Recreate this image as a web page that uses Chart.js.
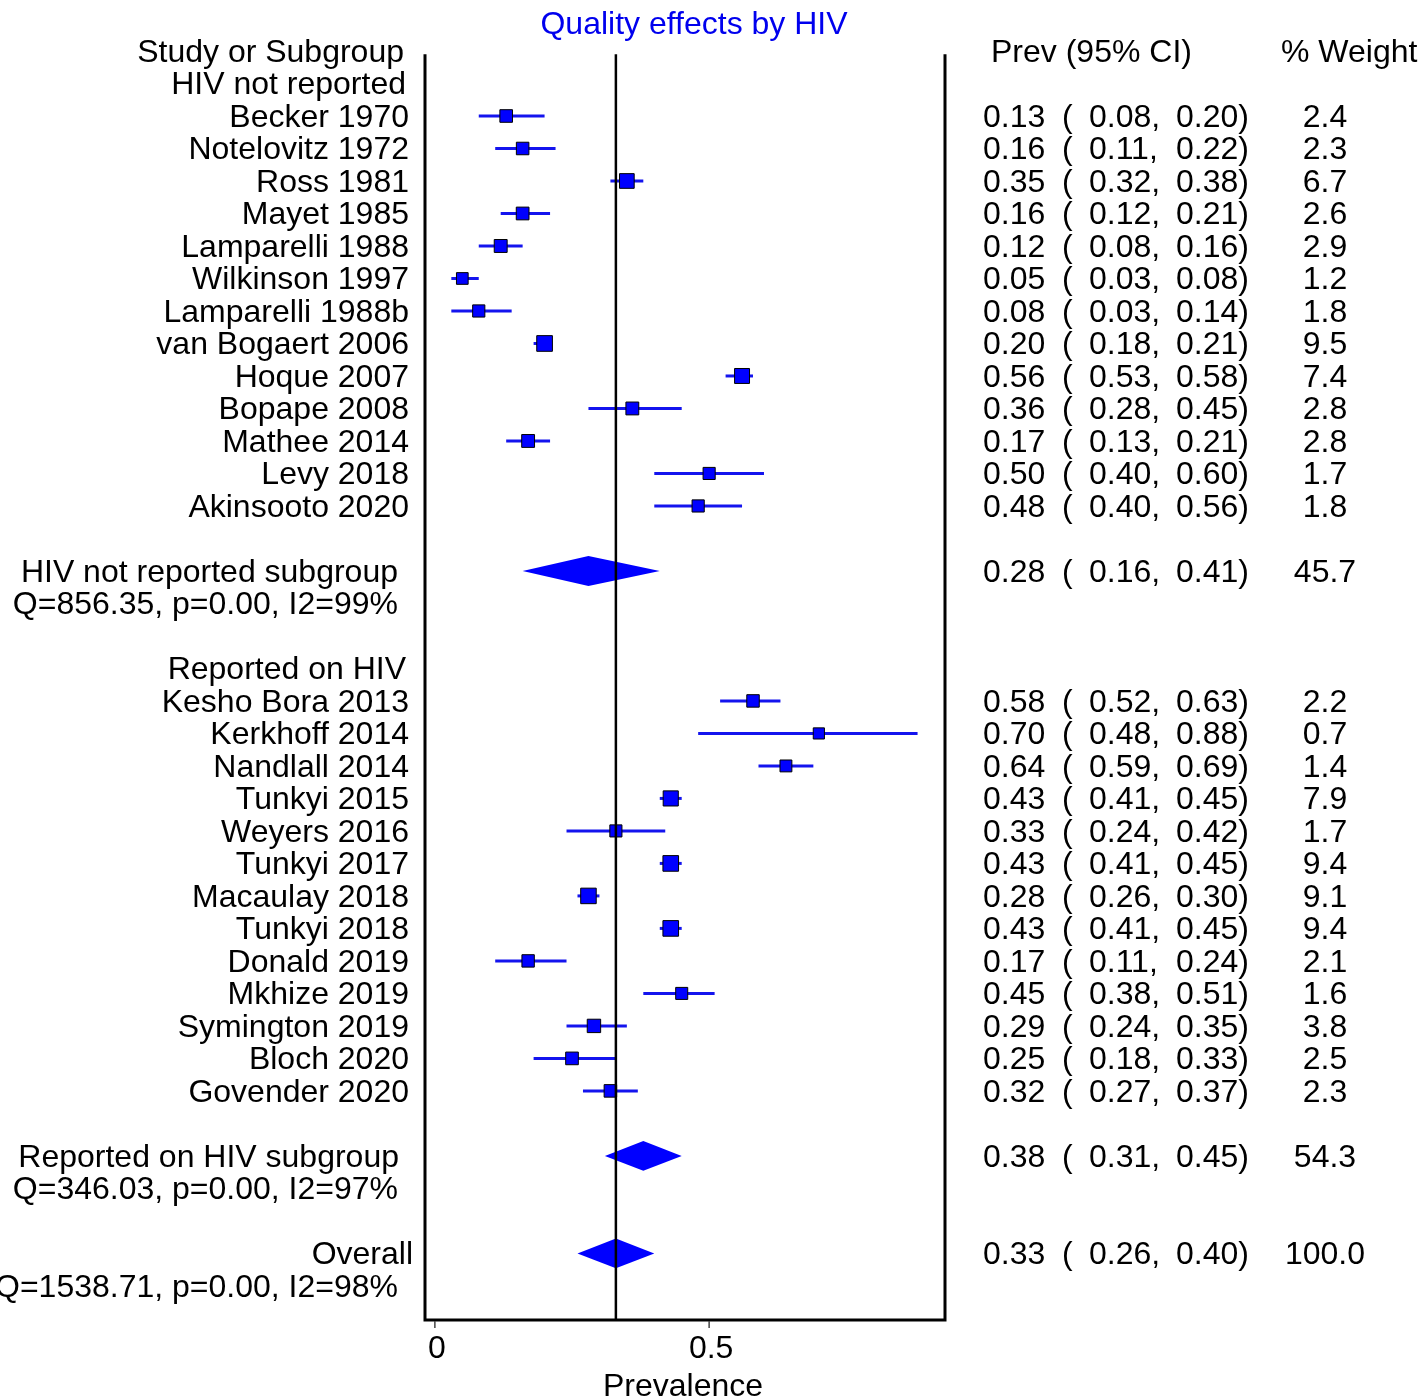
<!DOCTYPE html>
<html>
<head>
<meta charset="utf-8">
<title>Quality effects by HIV</title>
<script src="https://cdn.jsdelivr.net/npm/chart.js@4/dist/chart.umd.min.js"></script>
<style>
  body { margin: 0; background: #fff; }
  canvas { display: block; }
</style>
</head>
<body>
<canvas id="forest" width="1423" height="1396"></canvas>
<script>
// HIV not reported
const studiesA = ['Becker 1970', 'Notelovitz 1972', 'Ross 1981', 'Mayet 1985', 'Lamparelli 1988', 'Wilkinson 1997',
  'Lamparelli 1988b', 'van Bogaert 2006', 'Hoque 2007', 'Bopape 2008', 'Mathee 2014', 'Levy 2018', 'Akinsooto 2020'];
const estA = [0.13, 0.16, 0.35, 0.16, 0.12, 0.05, 0.08, 0.20, 0.56, 0.36, 0.17, 0.50, 0.48];
const loA = [0.08, 0.11, 0.32, 0.12, 0.08, 0.03, 0.03, 0.18, 0.53, 0.28, 0.13, 0.40, 0.40];
const hiA = [0.20, 0.22, 0.38, 0.21, 0.16, 0.08, 0.14, 0.21, 0.58, 0.45, 0.21, 0.60, 0.56];
const weightA = [2.4, 2.3, 6.7, 2.6, 2.9, 1.2, 1.8, 9.5, 7.4, 2.8, 2.8, 1.7, 1.8];

// Reported on HIV
const studiesB = ['Kesho Bora 2013', 'Kerkhoff 2014', 'Nandlall 2014', 'Tunkyi 2015', 'Weyers 2016', 'Tunkyi 2017',
  'Macaulay 2018', 'Tunkyi 2018', 'Donald 2019', 'Mkhize 2019', 'Symington 2019', 'Bloch 2020', 'Govender 2020'];
const estB = [0.58, 0.70, 0.64, 0.43, 0.33, 0.43, 0.28, 0.43, 0.17, 0.45, 0.29, 0.25, 0.32];
const loB = [0.52, 0.48, 0.59, 0.41, 0.24, 0.41, 0.26, 0.41, 0.11, 0.38, 0.24, 0.18, 0.27];
const hiB = [0.63, 0.88, 0.69, 0.45, 0.42, 0.45, 0.30, 0.45, 0.24, 0.51, 0.35, 0.33, 0.37];
const weightB = [2.2, 0.7, 1.4, 7.9, 1.7, 9.4, 9.1, 9.4, 2.1, 1.6, 3.8, 2.5, 2.3];

// pooled: [estimate, lower, upper, weight]
const pooledA = [0.28, 0.16, 0.41, 45.7];
const pooledB = [0.38, 0.31, 0.45, 54.3];
const overall = [0.33, 0.26, 0.40, 100.0];
const hetA = 'Q=856.35, p=0.00, I2=99%';
const hetB = 'Q=346.03, p=0.00, I2=97%';
const hetAll = 'Q=1538.71, p=0.00, I2=98%';

const xTicks = [0, 0.5];
const xTickLabels = ['0', '0.5'];

const FONT = '32px "Liberation Sans", Arial, Helvetica, sans-serif';
const BLUE = '#0000ff';
const LINE_BLUE = '#1414ee';
const TY = 2; // text sits a touch below the row centre

// row positions (0 = header line)
const rowsA = studiesA.map((s, i) => 2 + i);
const rowPooledA = 16;
const rowTitleB = 19;
const rowsB = studiesB.map((s, i) => 20 + i);
const rowPooledB = 34;
const rowOverall = 37;

const side = w => 9.5 + 2 * Math.sqrt(w);
const fmt = v => v.toFixed(2);

const ciLine = (lo, hi, row) => ({
  type: 'line',
  data: [{ x: lo, y: row }, { x: hi, y: row }],
  borderColor: LINE_BLUE,
  borderWidth: 3,
  pointRadius: 0
});

const allEst = estA.concat(estB);
const allRows = rowsA.concat(rowsB);
const allW = weightA.concat(weightB);

const datasets = [
  // line at overall estimate
  {
    type: 'line',
    data: [{ x: overall[0], y: 0.1 }, { x: overall[0], y: 39.05 }],
    borderColor: '#000',
    borderWidth: 2.5,
    pointRadius: 0
  },
  {
    type: 'scatter',
    data: allEst.map((v, i) => ({ x: v, y: allRows[i] })),
    pointStyle: 'rect',
    pointRadius: allW.map(w => side(w) / Math.SQRT2),
    backgroundColor: BLUE,
    borderColor: '#000',
    borderWidth: 1
  },
  ...studiesA.map((s, i) => ciLine(loA[i], hiA[i], rowsA[i])),
  ...studiesB.map((s, i) => ciLine(loB[i], hiB[i], rowsB[i]))
];

// pooled diamonds, under the reference line
const diamonds = {
  id: 'diamonds',
  beforeDatasetsDraw(chart) {
    const x = chart.scales.x, y = chart.scales.y;
    const ctx = chart.ctx;
    [[pooledA, rowPooledA], [pooledB, rowPooledB], [overall, rowOverall]].forEach(([p, row]) => {
      ctx.save();
      ctx.fillStyle = BLUE;
      ctx.beginPath();
      ctx.moveTo(x.getPixelForValue(p[1]), y.getPixelForValue(row));
      ctx.lineTo(x.getPixelForValue(p[0]), y.getPixelForValue(row - 0.46));
      ctx.lineTo(x.getPixelForValue(p[2]), y.getPixelForValue(row));
      ctx.lineTo(x.getPixelForValue(p[0]), y.getPixelForValue(row + 0.46));
      ctx.closePath();
      ctx.fill();
      ctx.restore();
    });
  }
};

// frame, axis, and the text columns
const textColumns = {
  id: 'textColumns',
  afterDraw(chart) {
    const ctx = chart.ctx;
    const x = chart.scales.x, y = chart.scales.y;
    const area = chart.chartArea;
    const ry = r => y.getPixelForValue(r) + TY;

    ctx.save();
    // frame
    ctx.strokeStyle = '#000';
    ctx.lineWidth = 3;
    ctx.beginPath();
    ctx.moveTo(area.left, y.getPixelForValue(0.1));
    ctx.lineTo(area.left, area.bottom);
    ctx.lineTo(area.right, area.bottom);
    ctx.lineTo(area.right, y.getPixelForValue(0.1));
    ctx.stroke();

    // ticks
    ctx.lineWidth = 1.5;
    ctx.strokeStyle = '#444';
    xTicks.forEach(t => {
      const px = x.getPixelForValue(t);
      ctx.beginPath();
      ctx.moveTo(px, area.bottom + 1);
      ctx.lineTo(px, area.bottom + 8);
      ctx.stroke();
    });

    ctx.font = FONT;
    ctx.fillStyle = '#000';
    ctx.textBaseline = 'middle';
    ctx.textAlign = 'center';
    xTicks.forEach((t, i) => ctx.fillText(xTickLabels[i], x.getPixelForValue(t) + 2, area.bottom + 29));
    ctx.fillText('Prevalence', (area.left + area.right) / 2 - 2, area.bottom + 67);

    // title
    ctx.fillStyle = '#0000ee';
    ctx.fillText('Quality effects by HIV', 694, 25);

    // left column
    ctx.fillStyle = '#000';
    ctx.textAlign = 'right';
    const L = 409;
    ctx.fillText('Study or Subgroup', 404, ry(0));
    ctx.fillText('HIV not reported', 406, ry(1));
    studiesA.forEach((s, i) => ctx.fillText(s, L, ry(rowsA[i])));
    ctx.fillText('HIV not reported subgroup', 398, ry(rowPooledA));
    ctx.fillText(hetA, 398, ry(rowPooledA + 1));
    ctx.fillText('Reported on HIV', 406, ry(rowTitleB));
    studiesB.forEach((s, i) => ctx.fillText(s, L, ry(rowsB[i])));
    ctx.fillText('Reported on HIV subgroup', 399, ry(rowPooledB));
    ctx.fillText(hetB, 398, ry(rowPooledB + 1));
    ctx.fillText('Overall', 413, ry(rowOverall));
    ctx.fillText(hetAll, 398, ry(rowOverall + 1));

    // right columns
    ctx.textAlign = 'left';
    ctx.fillText('Prev (95% CI)', 991, ry(0));
    ctx.fillText('% Weight', 1281, ry(0));
    const rowText = (e, lo, hi, w, row) => {
      const py = ry(row);
      ctx.textAlign = 'left';
      ctx.fillText(fmt(e), 983, py);
      ctx.fillText('(', 1062, py);
      ctx.fillText(fmt(lo) + ',', 1089, py);
      ctx.fillText(fmt(hi) + ')', 1176, py);
      ctx.textAlign = 'center';
      ctx.fillText(w.toFixed(1), 1325, py);
    };
    studiesA.forEach((s, i) => rowText(estA[i], loA[i], hiA[i], weightA[i], rowsA[i]));
    studiesB.forEach((s, i) => rowText(estB[i], loB[i], hiB[i], weightB[i], rowsB[i]));
    rowText(pooledA[0], pooledA[1], pooledA[2], pooledA[3], rowPooledA);
    rowText(pooledB[0], pooledB[1], pooledB[2], pooledB[3], rowPooledB);
    rowText(overall[0], overall[1], overall[2], overall[3], rowOverall);
    ctx.restore();
  }
};

new Chart(document.getElementById('forest'), {
  type: 'scatter',
  data: { datasets: datasets },
  options: {
    responsive: false,
    animation: false,
    devicePixelRatio: 1,
    layout: { padding: { left: 425, right: 478, top: 51, bottom: 76 } },
    scales: {
      x: { type: 'linear', min: -0.018, max: 0.93, display: false },
      y: { type: 'linear', min: 0, max: 39.05, reverse: true, display: false }
    },
    plugins: {
      legend: { display: false },
      tooltip: { enabled: false }
    }
  },
  plugins: [diamonds, textColumns]
});
</script>
</body>
</html>
